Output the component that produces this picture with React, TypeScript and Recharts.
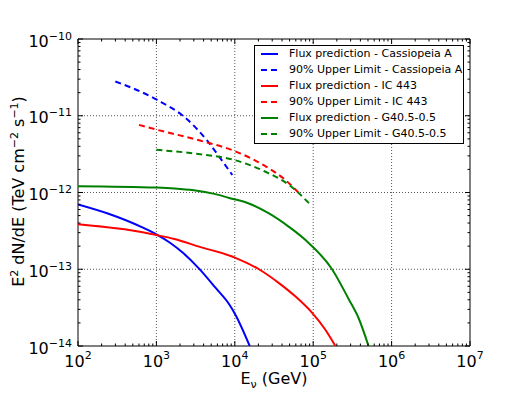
import React from "react";
import {Label, Line, LineChart, ReferenceArea, ReferenceLine, XAxis, YAxis} from "recharts";

type Pt = { e: number; f: number };

// E [GeV] vs E^2 dN/dE [TeV cm^-2 s^-1]
const casFlux: Pt[] = [
    {e: 100, f: 7.0e-13}, {e: 240, f: 5.33e-13}, {e: 640, f: 3.57e-13}, {e: 1000, f: 2.85e-13},
    {e: 1460, f: 2.25e-13}, {e: 2160, f: 1.65e-13}, {e: 3500, f: 1.02e-13}, {e: 5740, f: 5.66e-14},
    {e: 8470, f: 3.5e-14}, {e: 1.01e4, f: 2.6e-14}, {e: 1.55e4, f: 1.0e-14},
];
const casUL: Pt[] = [
    {e: 300, f: 2.8e-11}, {e: 1000, f: 1.63e-11}, {e: 2400, f: 9.2e-12}, {e: 4400, f: 4.8e-12},
    {e: 6400, f: 2.88e-12}, {e: 9300, f: 1.69e-12},
];
const icFlux: Pt[] = [
    {e: 100, f: 3.87e-13}, {e: 393, f: 3.31e-13}, {e: 1000, f: 2.79e-13}, {e: 1700, f: 2.48e-13},
    {e: 3500, f: 1.97e-13}, {e: 1e4, f: 1.42e-13}, {e: 2.03e4, f: 1.0e-13}, {e: 3.66e4, f: 6.6e-14},
    {e: 5.96e4, f: 4.4e-14}, {e: 9.7e4, f: 2.7e-14}, {e: 1.43e5, f: 1.63e-14}, {e: 1.92e5, f: 1.0e-14},
];
const icUL: Pt[] = [
    {e: 600, f: 7.6e-12}, {e: 1000, f: 6.6e-12}, {e: 3600, f: 4.75e-12}, {e: 1e4, f: 3.46e-12},
    {e: 2.5e4, f: 2.18e-12}, {e: 4.2e4, f: 1.52e-12}, {e: 6.8e4, f: 9.5e-13},
];
const g40Flux: Pt[] = [
    {e: 100, f: 1.21e-12}, {e: 1000, f: 1.16e-12}, {e: 1700, f: 1.13e-12}, {e: 3000, f: 1.07e-12},
    {e: 5500, f: 9.6e-13}, {e: 8470, f: 8.5e-13}, {e: 1.51e4, f: 7.2e-13}, {e: 2.73e4, f: 5.33e-13},
    {e: 4.9e4, f: 3.57e-13}, {e: 7.98e4, f: 2.4e-13}, {e: 1.74e5, f: 1.0e-13}, {e: 2.83e5, f: 4.1e-14},
    {e: 3.8e5, f: 2.3e-14}, {e: 5.08e5, f: 1.0e-14},
];
const g40UL: Pt[] = [
    {e: 1000, f: 3.6e-12}, {e: 3200, f: 3.2e-12}, {e: 1e4, f: 2.64e-12}, {e: 2.5e4, f: 1.85e-12},
    {e: 5e4, f: 1.24e-12}, {e: 9.4e4, f: 6.8e-13},
];

const series = [
    {name: "Flux prediction - Cassiopeia A", color: "#0000ff", dashed: false, data: casFlux},
    {name: "90% Upper Limit - Cassiopeia A", color: "#0000ff", dashed: true, data: casUL},
    {name: "Flux prediction - IC 443", color: "#ff0000", dashed: false, data: icFlux},
    {name: "90% Upper Limit - IC 443", color: "#ff0000", dashed: true, data: icUL},
    {name: "Flux prediction - G40.5-0.5", color: "#008000", dashed: false, data: g40Flux},
    {name: "90% Upper Limit - G40.5-0.5", color: "#008000", dashed: true, data: g40UL},
];

const xMajor = [1e2, 1e3, 1e4, 1e5, 1e6, 1e7];
const yMajor = [1e-14, 1e-13, 1e-12, 1e-11, 1e-10];

const withMinor = (major: number[]) => {
    const out: number[] = [];
    major.forEach((m, i) => {
        out.push(m);
        if (i < major.length - 1) for (let k = 2; k <= 9; k++) out.push(m * k);
    });
    return out;
};
const xTicks = withMinor(xMajor);
const yTicks = withMinor(yMajor);

// plot frame in svg coordinates
const TOP = 31;
const RIGHT = 462;
const DASH = "6 4";

const expLabel = (v: number) => {
    const p = Math.round(Math.log10(v));
    return p < 0 ? "\u2212" + Math.abs(p) : String(p);
};

const renderXTick = (props: any) => {
    const {x, y, payload} = props;
    const major = xMajor.includes(payload.value);
    const len = major ? 5 : 2.5;
    return (
        <g>
            <line x1={x} x2={x} y1={y} y2={y - len} stroke="#000"/>
            <line x1={x} x2={x} y1={TOP} y2={TOP + len} stroke="#000"/>
            {major && (
                <text x={x} y={y + 21} textAnchor="middle" fontSize={16} fill="#000">
                    10<tspan dy={-8} fontSize={11}>{expLabel(payload.value)}</tspan>
                </text>
            )}
        </g>
    );
};

const renderYTick = (props: any) => {
    const {x, y, payload} = props;
    const major = yMajor.includes(payload.value);
    const len = major ? 5 : 2.5;
    return (
        <g>
            <line x1={x} x2={x + len} y1={y} y2={y} stroke="#000"/>
            <line x1={RIGHT} x2={RIGHT - len} y1={y} y2={y} stroke="#000"/>
            {major && (
                <text x={x - 6} y={y + 7.5} textAnchor="end" fontSize={16} fill="#000">
                    10<tspan dy={-7} fontSize={11}>{expLabel(payload.value)}</tspan>
                </text>
            )}
        </g>
    );
};

const XTitle = () => (
    <text x={266} y={376} textAnchor="middle" fontSize={16} fill="#000">
        E<tspan dy={4} fontSize={11}>ν</tspan><tspan dy={-4}> (GeV)</tspan>
    </text>
);

const YTitle = () => (
    <text x={16} y={183.5} transform="rotate(-90 16 183.5)" textAnchor="middle" fontSize={16} fill="#000">
        E<tspan dy={-6} fontSize={11}>2</tspan>
        <tspan dy={6}> dN/dE (TeV cm</tspan>
        <tspan dy={-6} fontSize={11}>{"\u22122"}</tspan>
        <tspan dy={6}> s</tspan>
        <tspan dy={-6} fontSize={11}>{"\u22121"}</tspan>
        <tspan dy={6}>)</tspan>
    </text>
);

const ChartLegend = () => (
    <div style={{
        position: "absolute", left: 246, top: 37, width: 210, height: 99, boxSizing: "border-box",
        border: "1px solid #000", background: "#fff", paddingBottom: 1,
    }}>
        {series.map(s => (
            <div key={s.name} style={{display: "flex", alignItems: "center", height: 16, fontSize: 11, lineHeight: "16px"}}>
                <svg width={17} height={4} style={{marginLeft: 6, marginRight: 11}}>
                    <line x1={0} x2={17} y1={2} y2={2} stroke={s.color} strokeWidth={2}
                          strokeDasharray={s.dashed ? DASH : undefined}/>
                </svg>
                <span>{s.name}</span>
            </div>
        ))}
    </div>
);

export default function App() {
    return (
        <div style={{position: "relative", width: 515, height: 385, fontFamily: "'DejaVu Sans', sans-serif"}}>
            <LineChart width={515} height={385} margin={{top: 31, right: 53, left: 0, bottom: 7}}>
                <XAxis dataKey="e" type="number" scale="log" domain={[1e2, 1e7]} ticks={xTicks} interval={0}
                       allowDataOverflow tick={renderXTick} tickLine={false} axisLine={false} tickSize={0}
                       tickMargin={0} height={40}>
                    <Label content={<XTitle/>}/>
                </XAxis>
                <YAxis dataKey="f" type="number" scale="log" domain={[1e-14, 1e-10]} ticks={yTicks} interval={0}
                       allowDataOverflow tick={renderYTick} tickLine={false} axisLine={false} tickSize={0}
                       tickMargin={0} width={70}>
                    <Label content={<YTitle/>}/>
                </YAxis>
                {xMajor.slice(1, -1).map(v => (
                    <ReferenceLine key={"gx" + v} x={v} stroke="#555" strokeDasharray="1 2"/>
                ))}
                {yMajor.slice(1, -1).map(v => (
                    <ReferenceLine key={"gy" + v} y={v} stroke="#555" strokeDasharray="1 2"/>
                ))}
                {series.map(s => (
                    <Line key={s.name} data={s.data} dataKey="f" type="monotone" stroke={s.color} strokeWidth={2}
                          strokeDasharray={s.dashed ? DASH : undefined} dot={false} activeDot={false}
                          isAnimationActive={false}/>
                ))}
                <ReferenceArea x1={1e2} x2={1e7} y1={1e-14} y2={1e-10} fill="none" stroke="#000"
                               strokeWidth={1} ifOverflow="visible"/>
            </LineChart>
            <ChartLegend/>
        </div>
    );
}
